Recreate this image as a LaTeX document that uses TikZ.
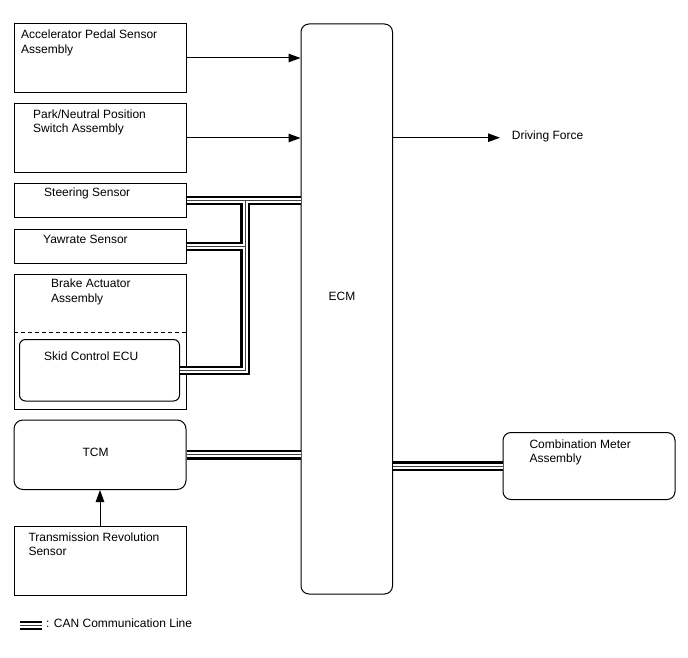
\documentclass[tikz,border=0pt]{standalone}
\usepackage{fontspec}
\setmainfont{Liberation Sans}
\usetikzlibrary{arrows.meta}
\begin{document}
\begin{tikzpicture}[x=1pt,y=-1pt,
  box/.style={draw, line width=1pt, minimum width=172pt, inner sep=0pt},
  rbox/.style={box, rounded corners=8pt},
  txt/.style={anchor=base west, inner sep=0pt, align=left, font=\fontsize{12}{14.3}\selectfont},
  sig/.style={line width=1pt, -{Triangle[length=12pt,width=8.5pt]}},
  can/.style={line width=9.5pt, draw=black, postaction={draw=white, line width=5pt}, postaction={draw=black!75, line width=0.8pt}}]
\useasboundingbox (0,0) rectangle (688,658);

% boxes
\node[box, minimum height=69pt] (acc) at (100,58) {};
\node[box, minimum height=69pt] (park) at (100,138) {};
\node[box, minimum height=34pt] (steer) at (100,200.5) {};
\node[box, minimum height=34pt] (yaw) at (100,246.5) {};
\node[box, minimum height=135pt] (brake) at (100,342) {};
\node[rbox, rounded corners=6pt, minimum width=160pt, minimum height=61.5pt] (skid) at (99.5,370.25) {};
\node[rbox, rounded corners=9pt, minimum height=69.5pt] (tcm) at (100,454.75) {};
\node[box, minimum height=69pt] (trans) at (100,560.5) {};
\node[rbox, minimum width=91.5pt, minimum height=570pt] (ecm) at (346.75,309) {};
\node[rbox, minimum height=67pt] (comb) at (589,466) {};

\draw[line width=0.9pt, dash pattern=on 4.5pt off 2.5pt] (brake.west |- 0,332.3) -- (brake.east |- 0,332.3);

% texts (multi-line: base = baseline of last line)
\node[txt] at (21,53.3) {Accelerator Pedal Sensor\\Assembly};
\node[txt] at (33,132.6) {Park/Neutral Position\\Switch Assembly};
\node[txt] at (44,196.7) {Steering Sensor};
\node[txt] at (43,243.3) {Yawrate Sensor};
\node[txt] at (51,302) {Brake Actuator\\Assembly};
\node[txt] at (44,360) {Skid Control ECU};
\node[txt, anchor=base] at (95.5,456) {TCM};
\node[txt] at (28.3,555.3) {Transmission Revolution\\Sensor};
\node[txt] at (529.3,462.6) {Combination Meter\\Assembly};
\node[txt, anchor=base] at (342,300.3) {ECM};

% signal arrows
\draw[sig] (acc.east) -- (ecm.west |- acc.east);
\draw[sig] (park.east) -- (ecm.west |- park.east);
\coordinate (df) at (500,137.7);
\draw[sig] (ecm.east |- df) -- (df);
\node[txt] (dft) at (511.7,140) {Driving Force};
\draw[sig] (trans.north) -- (tcm.south);

% CAN lines
\coordinate (bus) at (245,0);
\path[can] (steer.east) -- (ecm.west |- steer.east)
  (skid.east) -- (bus |- skid.east) -- (bus |- steer.east)
  (yaw.east) -- (bus |- yaw.east);
\path[can] (tcm.east) -- (ecm.west |- tcm.east);
\path[can] (ecm.east |- comb.west) -- (comb.west);

% legend
\coordinate (lg1) at (20,625.5);
\coordinate (lg2) at (42,625.5);
\path[can] (lg1) -- (lg2);
\node[txt] (lgt) at (46,627.3) {: CAN Communication Line};
\end{tikzpicture}
\end{document}
